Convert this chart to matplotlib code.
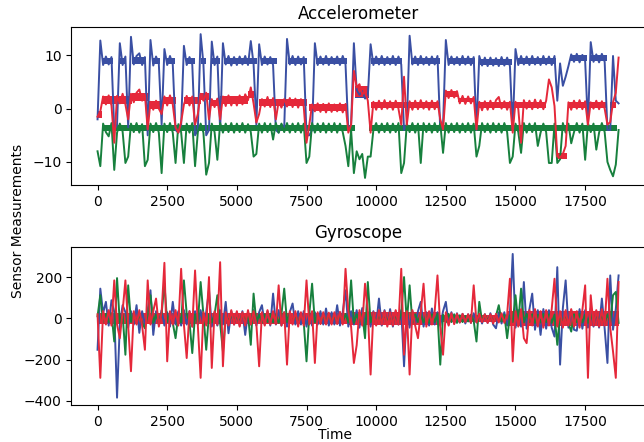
import matplotlib
matplotlib.use('Agg')
import matplotlib.pyplot as plt
import numpy as np

# -------------------------- data (one value per 100 samples) --------------------------
time = np.arange(0, 18800, 100)

acc_x = [-2.0, 12.8, 8.2, 9.8, 8.3, 9.7, -4.0, -3.0, 12.3, 8.2,
         9.8, -3.5, 13.5, 8.3, 9.9, 10.4, 8.2, 9.7, -5.0, 12.9,
         8.1, 9.8, 8.4, -3.0, 11.2, 8.2, 9.9, 8.3, -4.0, -4.5,
         -3.0, 11.8, 8.2, 9.7, 8.3, -5.0, -4.0, 14.0, 8.4, -5.0,
         -4.0, 12.6, 8.2, 9.8, -4.0, 12.3, 8.3, 9.9, 8.1, 9.7,
         8.2, 9.8, 8.3, 9.9, 8.2, 12.7, 8.4, -3.0, 12.1, 8.2,
         9.8, 8.3, 9.7, 8.2, -4.0, -4.5, -3.0, -3.5, 13.1, 8.3,
         9.9, 8.2, 9.8, 8.3, 9.7, -5.0, -5.0, -4.0, 12.3, 8.2,
         9.8, 8.3, 9.9, 8.2, 9.7, 8.4, 9.8, 8.2, 9.9, 8.3,
         -4.0, -3.0, 12.3, 3.5, 2.6, 3.3, 1.9, 2.4, 12.1, 8.2,
         9.8, 8.3, 9.9, 8.2, 9.7, 8.3, 9.9, 8.2, 9.8, 8.3,
         -4.0, -3.0, 13.7, 8.3, 9.8, 8.2, 9.9, 8.3, 9.7, 8.2,
         9.8, 8.3, 9.9, -4.0, -3.0, 12.9, 8.2, 9.8, 8.3, 9.7,
         8.2, 9.9, 8.3, 9.8, 8.2, 9.7, -4.0, 9.9, 8.1, 9.6,
         8.0, 9.6, 8.1, 9.5, 8.0, 9.7, 8.1, 9.6, 8.0, -4.0,
         11.2, 8.2, 9.9, 8.3, 9.8, 8.2, 9.9, 8.3, 9.7, 8.2,
         9.9, 8.3, 9.8, 8.2, 9.9, 1.5, 8.5, 4.3, 6.0, 8.0,
         10.2, 8.8, 10.3, 8.7, 10.1, 8.9, -3.0, 12.5, 8.8, 10.2,
         8.7, 10.3, 8.8, -4.0, -4.0, 9.9, 1.5, 1.0]

acc_y = [-1.5, -0.5, 2.3, 0.8, 2.5, 0.6, -6.4, 2.4, 1.0, 2.8,
         0.8, -2.0, 2.8, 1.2, 3.0, 3.6, 1.5, 2.6, -3.9, 1.3,
         -0.2, 1.5, 0.0, -1.0, 2.3, 0.6, 2.5, 0.8, -3.5, -4.5,
         -2.5, 0.8, 2.4, 0.6, 2.3, -3.0, -1.0, 2.8, 1.5, 3.0,
         -2.0, 1.8, 0.3, 1.9, -2.0, 2.3, 0.5, 2.5, 0.6, 2.2,
         0.6, 2.5, 0.8, 2.7, 1.6, 4.0, 1.0, -2.6, -1.0, 1.8,
         0.4, 2.2, 0.3, 2.0, -2.0, 1.4, 0.2, 1.8, 0.4, 2.0,
         0.3, 1.9, 0.2, 1.8, 0.4, -6.4, -3.0, 0.8, -0.5, 1.0,
         -0.6, 0.9, -0.7, 1.0, -0.6, 0.8, -0.5, 1.0, -0.7, 0.9,
         -4.5, -3.0, 7.1, 4.0, 4.6, 2.6, 3.4, 1.5, -4.5, 1.3,
         -0.2, 1.5, -0.1, 1.6, 0.0, 1.4, -0.2, 1.5, 0.0, -3.0,
         6.0, -3.0, 1.4, -0.2, 1.5, -0.1, 1.6, 0.0, 1.4, -0.2,
         1.5, -0.1, 1.4, -2.0, -3.9, 3.4, 2.0, 3.5, 2.1, 3.3,
         1.0, 2.4, 0.9, 2.3, 1.0, 2.2, -3.9, 1.3, -0.3, 1.4,
         -0.2, 1.5, -0.1, 1.6, 2.2, 0.0, 1.4, -0.2, 1.3, -4.5,
         1.3, 0.0, -6.4, 1.6, 0.0, 1.5, -0.1, 1.7, 0.1, 1.6,
         -0.1, 1.5, 5.5, 4.0, 0.5, -9.0, -9.2, -8.5, -7.0, 1.2,
         -0.2, 1.5, 0.0, 1.6, -0.1, 1.4, -3.0, 1.2, 0.0, 1.5,
         -0.1, 1.4, 0.0, -3.0, -2.5, 1.2, 3.0, 9.6]

acc_z = [-8.0, -10.8, -2.8, -4.4, -5.2, -2.7, -11.5, -4.5, -2.8, -4.3,
         -10.2, -9.0, -2.8, -4.4, -2.7, -4.5, -2.9, -10.8, -9.6, -2.8,
         -4.4, -2.7, -4.5, -12.1, -2.8, -4.4, -2.7, -4.5, -10.2, -2.9,
         -4.4, -10.2, -2.8, -4.5, -2.7, -10.8, -4.4, -2.8, -4.5, -12.4,
         -10.2, -2.8, -4.4, -9.6, -2.7, -4.5, -2.8, -4.4, -2.7, -4.5,
         -2.8, -4.4, -2.7, -4.5, -2.9, -4.4, -9.0, -8.5, -2.8, -4.5,
         -2.7, -4.4, -2.8, -5.8, -2.7, -4.5, -2.8, -4.4, -2.7, -4.5,
         -2.8, -4.4, -2.7, -4.5, -2.8, -10.2, -9.0, -2.7, -4.5, -2.8,
         -4.4, -2.7, -4.5, -2.8, -4.4, -2.7, -4.5, -2.8, -4.4, -7.0,
         -10.8, -4.0, -12.1, -8.0, -9.5, -8.5, -13.0, -9.0, -9.0, -4.0,
         -2.7, -4.5, -2.8, -4.4, -2.7, -4.5, -2.8, -4.4, -2.7, -12.1,
         -10.2, -2.8, -4.4, -2.7, -4.5, -2.8, -10.2, -2.7, -4.4, -2.8,
         -4.5, -2.7, -4.4, -2.8, -8.3, -2.7, -4.5, -2.8, -4.4, -2.7,
         -4.5, -2.8, -4.4, -2.7, -4.5, -2.8, -9.0, -7.0, -2.7, -4.4,
         -2.8, -4.5, -2.7, -4.4, -2.8, -4.5, -2.7, -4.4, -10.2, -9.0,
         -2.8, -4.4, -8.3, -2.7, -4.5, -2.8, -4.4, -2.7, -7.0, -4.5,
         -2.8, -4.4, -10.2, -10.2, -2.8, -10.2, -9.5, -2.7, -4.5, -2.8,
         -6.5, -4.4, -2.7, -4.5, -2.8, -9.6, -2.7, -4.4, -2.8, -7.7,
         -4.5, -2.7, -4.4, -10.0, -11.5, -12.7, -10.5, -4.0]

gyro_x = [-152, 144, 25, 80, -35, 88, 30, -384, -30, 64,
          30, -45, 35, -30, 64, -70, 35, -30, 40, 136,
          -80, 35, -30, 40, -35, 30, -40, 80, -30, 35,
          -35, 40, -30, 35, -40, 35, -30, 40, -35, 30,
          136, -40, 30, -35, 40, -30, 80, -72, 35, -30,
          30, -35, 35, -80, 30, -30, 40, -35, 30, 64,
          -30, 35, -35, 120, -30, 40, -35, 30, -40, 30,
          72, -30, 35, -30, 35, -40, 30, -35, 30, -30,
          35, -30, 48, -35, 30, -30, 64, -35, 30, 136,
          -40, 35, -30, 40, -45, 50, -35, 30, -40, 35,
          -30, 96, -35, 40, -30, 45, -40, 35, -30, 40,
          -232, 40, -45, 35, -30, 35, 80, -40, 30, -35,
          48, -30, 30, -35, 35, 80, -30, 30, -25, 25,
          -20, 22, -25, 20, -22, 25, -20, 22, -25, 20,
          -22, 25, -30, -48, 30, -25, 30, -35, 25, 312,
          -45, 40, -40, 176, -50, 45, 120, -55, 40, -80,
          45, -50, 40, -45, -88, 248, -224, 50, 184, -45,
          40, -55, -60, 45, -50, 40, -45, 50, -40, 35,
          -45, 96, -50, -216, 208, -55, 45, 208]

gyro_y = [10, 112, -20, 22, -18, 25, -112, 195, -22, 20,
          -176, 160, -18, 22, -20, 18, -22, -48, 20, 112,
          -22, 18, -20, 22, 168, -18, 20, -22, -96, 18,
          -20, 184, 22, -18, -168, 20, -22, 176, 18, -152,
          22, -20, 18, 112, -22, -160, 20, -18, 22, -20,
          18, -22, 20, -18, 22, -128, 120, -20, 18, -22,
          20, -18, 22, -20, 18, -22, 20, 144, -18, 22,
          -20, 18, -22, 20, -18, -208, 22, 168, -20, 18,
          -22, 20, -18, 22, -20, 18, -22, 20, -18, 22,
          -20, 184, -22, 20, -18, 22, -96, 176, -20, 18,
          -22, 20, -18, 22, -20, 18, -22, 20, -18, 22,
          200, -20, 160, -22, 20, -18, 22, -20, 18, -22,
          20, -18, 22, -224, 18, -20, 22, -18, 20, -22,
          15, -18, 12, -15, 18, -12, -112, 80, -15, 18,
          -12, 15, -18, 12, 64, -15, 18, -96, 15, -18,
          112, -22, 144, -20, 22, -18, 20, -22, 18, -20,
          22, -18, 20, -22, 18, -128, 22, -20, 18, -22,
          -64, 20, -18, 22, -20, 18, -22, 20, -18, 22,
          -20, 18, -22, 20, -18, 112, 128, -22]

gyro_z = [20, -288, 35, -30, 40, -35, 184, -30, -96, 35,
          184, -40, -256, 35, -30, 40, -35, -152, 184, -30,
          35, 96, -40, 30, 269, -208, 35, -30, 40, -35,
          240, -30, -192, 35, -40, 232, -35, -288, 30, -35,
          200, -240, 35, -30, 272, -232, 30, -35, 40, -30,
          35, -40, 30, -35, 40, -30, 35, -28, -232, 30,
          -35, 40, -30, 35, -28, 160, -35, 30, -224, 35,
          -30, 35, -40, 30, -35, 184, -30, 35, -216, 30,
          -28, 30, -30, 28, -30, 30, -28, 32, -30, 240,
          35, -40, -216, -130, 40, -35, 168, 35, -272, 30,
          -35, 40, -30, 35, -40, 30, -35, 40, -30, 240,
          -176, 35, -272, 40, -35, -96, 30, 168, -40, 35,
          -30, 35, 208, -40, -176, 30, -35, 25, -28, 22,
          -20, 22, -18, 20, -22, 160, -20, 22, -18, 20,
          -22, 20, -25, 22, -20, 25, -22, 20, 192, -208,
          35, -40, 45, -96, -120, 40, -35, 45, -40, 35,
          -45, 40, -35, 45, 192, -40, 35, -45, 40, -35,
          45, -40, 35, -45, 40, 160, -288, 112, -35, 40,
          -40, 45, -35, 192, -45, -160, -288, 176]

# steady noise bands: (start, end, low, high)
acc_x_bands = [(150, 560, 8.4, 9.6), (820, 1020, 8.4, 9.6), (1220, 1730, 8.4, 9.8),
               (1950, 2240, 8.4, 9.6), (2480, 2775, 8.4, 9.6), (3170, 3500, 8.4, 9.6),
               (3710, 3910, 8.4, 9.6), (4120, 4400, 8.4, 9.6), (4540, 5710, 8.4, 9.6),
               (5860, 6430, 8.4, 9.6), (6830, 7530, 8.4, 9.6), (7840, 8960, 8.4, 9.6),
               (9240, 9750, 2.0, 3.4), (9820, 10910, 8.4, 9.6), (11250, 12290, 8.4, 9.6),
               (12560, 13550, 8.4, 9.6), (13730, 14860, 8.2, 9.4), (15070, 16450, 8.4, 9.6),
               (16950, 17560, 8.9, 10.1), (17690, 18280, 8.9, 10.1)]

acc_y_bands = [(0, 150, -1.7, -0.5), (150, 1250, 0.9, 2.3), (1250, 1800, 1.4, 3.0),
               (1800, 2300, 0.0, 1.4), (2300, 2800, 0.8, 2.2), (3100, 3700, 0.8, 2.2),
               (3700, 4000, 1.6, 2.9), (4000, 4400, 0.5, 1.7), (4400, 5400, 0.8, 2.4),
               (5400, 5600, 2.0, 3.4), (5800, 7500, 0.5, 1.8), (7600, 9000, -0.4, 0.8),
               (9250, 9750, 2.2, 4.2), (9800, 12300, 0.1, 1.3), (12450, 12950, 2.2, 3.3),
               (12950, 13600, 1.2, 2.1), (13650, 16100, 0.1, 1.3), (16450, 16850, -9.4, -8.4),
               (16900, 18300, 0.1, 1.3), (18400, 18600, 0.1, 1.2)]

acc_z_bands = [(150, 9250, -4.2, -3.0), (9750, 18650, -4.2, -3.0)]

gyro_z_bands = [(0, 9000, -28, 28), (9000, 12300, -30, 30),
                (12300, 14700, -16, 16), (14700, 18700, -36, 36)]

colors = {'x': '#3a4fa3', 'y': '#e5283a', 'z': '#17803d'}


def draw_bands(ax, bands, color):
    for start, end, low, high in bands:
        ax.fill_between([start, end], [low, low], [high, high], color=color, linewidth=0)


# -------------------------- drawing --------------------------
fig, (ax1, ax2) = plt.subplots(2, 1, figsize=(6.44, 4.42), dpi=100)
fig.subplots_adjust(left=0.111, right=1.001, bottom=0.084, top=0.939, hspace=0.39)

# blue first, then green, red on top
draw_bands(ax1, acc_x_bands, colors['x'])
ax1.plot(time, acc_x, color=colors['x'], linewidth=1.4)
draw_bands(ax1, acc_z_bands, colors['z'])
ax1.plot(time, acc_z, color=colors['z'], linewidth=1.4)
draw_bands(ax1, acc_y_bands, colors['y'])
ax1.plot(time, acc_y, color=colors['y'], linewidth=1.4)
ax1.set_title('Accelerometer', fontsize=12)

ax2.plot(time, gyro_x, color=colors['x'], linewidth=1.4)
ax2.plot(time, gyro_y, color=colors['z'], linewidth=1.4)
draw_bands(ax2, gyro_z_bands, colors['y'])
ax2.plot(time, gyro_z, color=colors['y'], linewidth=1.4)
ax2.set_title('Gyroscope', fontsize=12)

for ax in (ax1, ax2):
    ax.tick_params(labelsize=10)

fig.text(0.028, 0.5, 'Sensor Measurements', rotation=90, ha='center', va='center', fontsize=10)
fig.text(0.52, 0.016, 'Time', ha='center', va='center', fontsize=10)

plt.savefig('out.png', dpi=100)
